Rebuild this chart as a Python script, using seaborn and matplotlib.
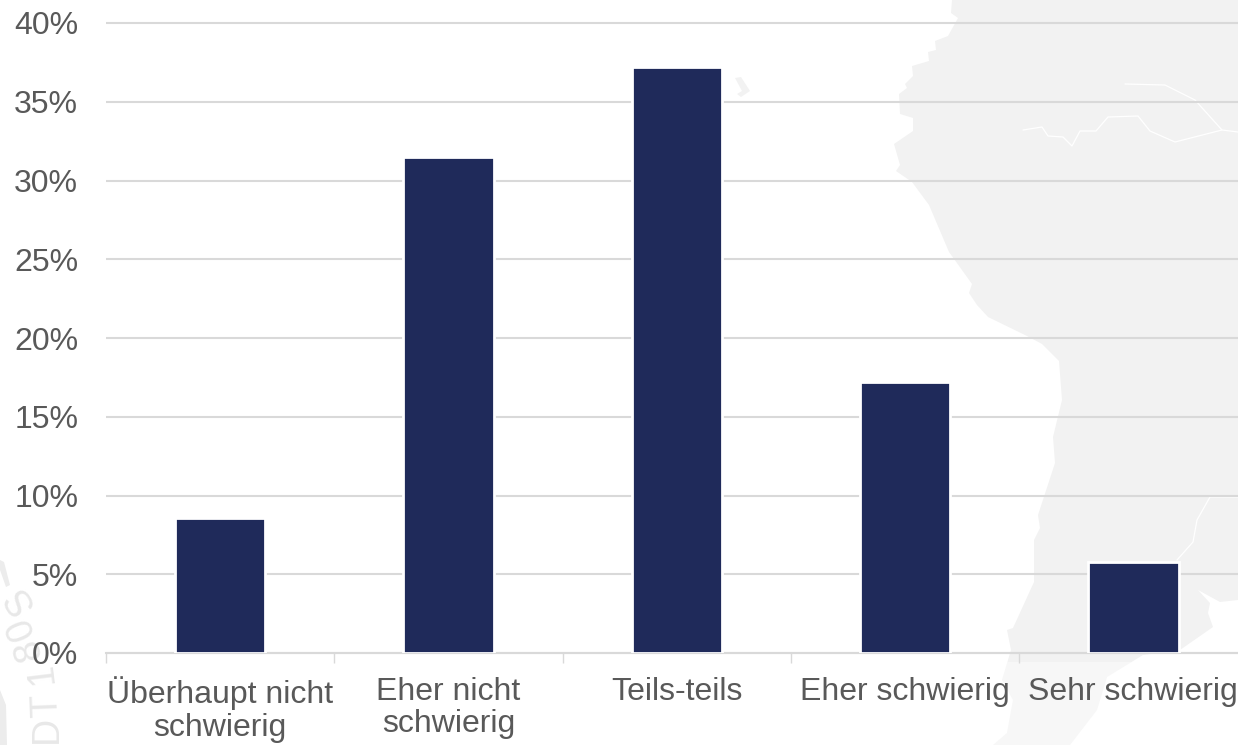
import matplotlib
matplotlib.use("Agg")
import matplotlib.pyplot as plt
from matplotlib.patches import Polygon
from matplotlib.ticker import FuncFormatter
import pandas as pd
import seaborn as sns

categories = ["Überhaupt nicht\nschwierig", "Eher nicht\nschwierig", "Teils-teils",
              "Eher schwierig", "Sehr schwierig"]
shares = [8.6, 31.5, 37.2, 17.2, 5.75]
y_ticks = [0, 5, 10, 15, 20, 25, 30, 35, 40]

# background map outline, in picture pixels
land = [(952, 0), (951, 13), (958, 18), (948, 36), (935, 41), (936, 50), (928, 52), (929, 61),
        (912, 66), (913, 76), (905, 84), (907, 88), (899, 94), (900, 114), (913, 118), (913, 131),
        (894, 144), (900, 165), (896, 171), (912, 182), (929, 205), (949, 252), (972, 284),
        (969, 293), (977, 305), (988, 317), (1027, 336), (1042, 344), (1059, 361), (1062, 400),
        (1053, 437), (1055, 463), (1038, 515), (1040, 528), (1034, 540), (1034, 582), (1013, 628),
        (1007, 630), (1011, 650), (1002, 680), (1013, 700), (1007, 733), (993, 745), (1070, 745),
        (1097, 710), (1107, 677), (1143, 655), (1180, 650), (1213, 627), (1208, 613), (1210, 603),
        (1198, 590), (1220, 602), (1238, 600), (1238, 0)]
rivers = [[(1125, 84), (1165, 85), (1195, 100), (1222, 130), (1238, 132)],
          [(1023, 130), (1042, 127), (1048, 136), (1063, 137), (1072, 146), (1080, 131), (1096, 131),
           (1108, 117), (1138, 116), (1150, 131), (1175, 142), (1222, 130)],
          [(1177, 560), (1193, 542), (1197, 520), (1210, 497), (1238, 497)]]
islet = [(735, 78), (741, 77), (750, 91), (741, 97), (737, 94), (742, 91)]
seal_arc = [(0, 690), (6, 705), (7, 745), (0, 745)]
seal_stroke = [(0, 560), (4, 562), (10, 585), (6, 587), (0, 570)]
seal_letters = [("S", 20, 600, 122), ("0", 21, 628, 112), ("8", 29, 650, 105),
                ("1", 42, 674, 97), ("T", 47, 706, 92), ("D", 47, 729, 90)]

W, H = 1238, 745
sns.set_theme(style="white")
plt.rcParams["font.family"] = ["Liberation Sans", "DejaVu Sans"]

df = pd.DataFrame({"category": categories, "share": shares})

fig = plt.figure(figsize=(W / 100, H / 100), dpi=100, facecolor="white")
ax = fig.add_axes([106 / W, (H - 653) / H, 1141.5 / W, 630 / H])
ax.patch.set_alpha(0)

to_fig = lambda pts: [(x / W, 1 - y / H) for x, y in pts]
for shape, shade in [(land, "#f2f2f2"), (islet, "#f2f2f2"), (seal_arc, "#ececec"), (seal_stroke, "#ececec")]:
    fig.add_artist(Polygon(to_fig(shape), closed=True, facecolor=shade, edgecolor="none",
                           transform=fig.transFigure, zorder=-5))
# the map fades out under the axis
fade = [(900, 662), (1238, 662), (1238, 745), (900, 745)]
fig.add_artist(Polygon(to_fig(fade), closed=True, facecolor="white", edgecolor="none", alpha=0.4,
                       transform=fig.transFigure, zorder=-4.5))
for r in rivers:
    xs, ys = zip(*to_fig(r))
    fig.add_artist(plt.Line2D(xs, ys, color="white", lw=0.9, transform=fig.transFigure, zorder=-4))
for ch, x, y, rot in seal_letters:
    fig.text(x / W, 1 - y / H, ch, color="#e8e8e8", fontsize=27, rotation=rot,
             ha="center", va="center", rotation_mode="anchor", zorder=-4)

sns.barplot(data=df, x="category", y="share", color="#1f2a5a", saturation=1, width=0.396,
            edgecolor="white", linewidth=2.0, zorder=3, ax=ax)

ax.set_xlim(-0.5, 4.5)
ax.set_ylim(0, 40)
ax.set_yticks(y_ticks)
ax.yaxis.set_major_formatter(FuncFormatter(lambda v, _: f"{v:.0f}%"))
ax.set_xlabel("")
ax.set_ylabel("")
ax.grid(axis="y", color="#d9d9d9", lw=1.5, zorder=1)
ax.set_axisbelow(True)
for line in ax.get_ygridlines():
    line.set_clip_on(False)
    line.set_solid_capstyle("butt")
for s in ["top", "right", "left"]:
    ax.spines[s].set_visible(False)
ax.spines["bottom"].set_color("#d9d9d9")
ax.spines["bottom"].set_linewidth(1.5)

# ticks sit between the categories
ax.set_xticks([-0.5, 0.5, 1.5, 2.5, 3.5, 4.5], labels=[""] * 6)
ax.set_xticks(range(5), labels=categories, minor=True)
ax.tick_params(axis="x", which="major", length=7, width=1, color="#d9d9d9", bottom=True)
ax.tick_params(axis="x", which="minor", length=0, labelsize=23, labelcolor="#595959", pad=17)
ax.tick_params(axis="y", length=0, labelsize=23, labelcolor="#595959", pad=20)
for t in ax.get_xticklabels(minor=True):
    t.set_linespacing(1.12)

fig.savefig("out.png", dpi=100)
